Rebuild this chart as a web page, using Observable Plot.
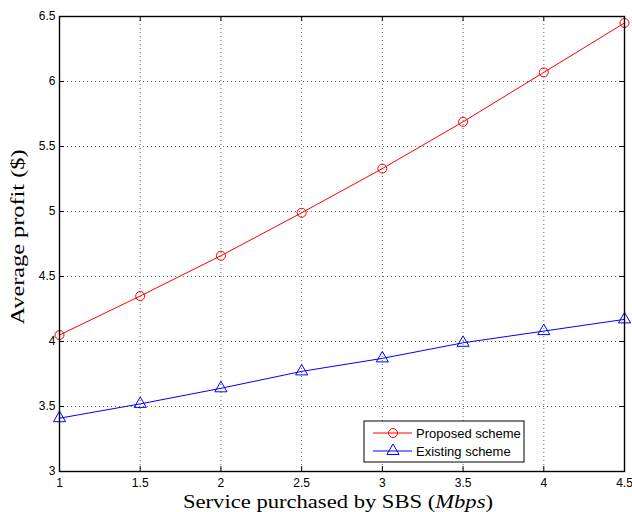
<!DOCTYPE html>
<html>
<head>
<meta charset="utf-8">
<script src="https://cdn.jsdelivr.net/npm/d3@7"></script>
<script src="https://cdn.jsdelivr.net/npm/@observablehq/plot@0.6"></script>
<style>
  html, body { margin: 0; padding: 0; background: #fff; }
  #chart { position: relative; width: 632px; height: 512px; }
  .serif-title { font-family: "Liberation Serif", "DejaVu Serif", "Times New Roman", serif !important; }
</style>
</head>
<body>
<div id="chart"></div>
<script>
const service = [1, 1.5, 2, 2.5, 3, 3.5, 4, 4.5];
const proposed = [4.05, 4.35, 4.66, 4.99, 5.33, 5.69, 6.07, 6.45];
const existing = [3.41, 3.52, 3.64, 3.77, 3.87, 3.99, 4.08, 4.17];
const xTicks = [1, 1.5, 2, 2.5, 3, 3.5, 4, 4.5];
const yTicks = [3, 3.5, 4, 4.5, 5, 5.5, 6, 6.5];
const seriesNames = ["Proposed scheme", "Existing scheme"];

const W = 632, H = 512;
const mL = 59, mR = 8, mT = 16, mB = 41;
const innerW = W - mL - mR, innerH = H - mT - mB;
const tickLen = 5;

const pData = service.map((x, i) => ({x, y: proposed[i]}));
const eData = service.map((x, i) => ({x, y: existing[i]}));

const chart = Plot.plot({
  width: W, height: H,
  marginLeft: mL, marginRight: mR, marginTop: mT, marginBottom: mB,
  style: {fontFamily: "'Liberation Sans', Arial, sans-serif", fontSize: "12px", background: "#fff", color: "#000"},
  x: {domain: [1, 4.5]},
  y: {domain: [3, 6.5]},
  marks: [
    Plot.gridX(xTicks, {stroke: "#000", strokeOpacity: 0.6, strokeDasharray: "1,3", strokeWidth: 1}),
    Plot.gridY(yTicks, {stroke: "#000", strokeOpacity: 0.6, strokeDasharray: "1,3", strokeWidth: 1}),
    Plot.axisX(xTicks, {tickSize: 0, tickPadding: 7, label: null, tickFormat: d => String(d), fontSize: 12}),
    Plot.axisY(yTicks, {tickSize: 0, tickPadding: 4, label: null, tickFormat: d => String(d), fontSize: 12}),
    // inward ticks (MATLAB style)
    Plot.tickX(xTicks, {x: d => d, stroke: "#000", insetTop: innerH - tickLen}),
    Plot.tickX(xTicks, {x: d => d, stroke: "#000", insetBottom: innerH - tickLen}),
    Plot.tickY(yTicks, {y: d => d, stroke: "#000", insetRight: innerW - tickLen}),
    Plot.tickY(yTicks, {y: d => d, stroke: "#000", insetLeft: innerW - tickLen}),
    Plot.line(pData, {x: "x", y: "y", stroke: "#ff0000", strokeWidth: 1}),
    Plot.dot(pData, {x: "x", y: "y", stroke: "#ff0000", fill: "none", symbol: "circle", r: 4.5, strokeWidth: 1}),
    Plot.line(eData, {x: "x", y: "y", stroke: "#0000ff", strokeWidth: 1}),
    Plot.dot(eData, {x: "x", y: "y", stroke: "#0000ff", fill: "none", symbol: "triangle", r: 4.5, strokeWidth: 1}),
    Plot.frame({stroke: "#000", strokeWidth: 1.4})
  ]
});

const container = document.getElementById("chart");
container.appendChild(chart);

// Axis titles
const svg = d3.select(chart);
const xl = svg.append("text")
  .attr("class", "serif-title")
  .attr("x", 338)
  .attr("y", 508)
  .attr("text-anchor", "middle")
  .attr("font-size", 19)
  .attr("textLength", 310)
  .attr("lengthAdjust", "spacingAndGlyphs")
  .attr("fill", "#000");
xl.append("tspan").text("Service purchased by SBS (");
xl.append("tspan").attr("font-style", "italic").text("Mbps");
xl.append("tspan").text(")");

svg.append("text")
  .attr("class", "serif-title")
  .attr("transform", `translate(24,237) rotate(-90)`)
  .attr("text-anchor", "middle")
  .attr("font-size", 19)
  .attr("textLength", 175)
  .attr("lengthAdjust", "spacingAndGlyphs")
  .attr("fill", "#000")
  .text("Average profit ($)");

// Legend (inside plot, lower right)
const lg = svg.append("g").attr("transform", "translate(364,421)").attr("text-anchor", "start");
lg.append("rect").attr("width", 160).attr("height", 41)
  .attr("fill", "#fff").attr("stroke", "#000").attr("stroke-width", 1);
const colors = ["#ff0000", "#0000ff"];
seriesNames.forEach((name, i) => {
  const y = 12 + i * 18;
  const row = lg.append("g").attr("transform", `translate(0,${y})`);
  row.append("line").attr("x1", 9).attr("x2", 48).attr("y1", 0).attr("y2", 0)
    .attr("stroke", colors[i]).attr("stroke-width", 1);
  if (i === 0) {
    row.append("circle").attr("cx", 29).attr("cy", 0).attr("r", 4.5)
      .attr("fill", "none").attr("stroke", colors[i]);
  } else {
    row.append("path").attr("transform", "translate(29,0)")
      .attr("d", d3.symbol(d3.symbolTriangle, Math.PI * 4.5 * 4.5)())
      .attr("fill", "none").attr("stroke", colors[i]);
  }
  row.append("text").attr("x", 52).attr("y", 0).attr("dy", "0.35em")
    .attr("text-anchor", "start")
    .attr("font-family", "'Liberation Sans', Arial, sans-serif")
    .attr("font-size", 13).attr("fill", "#000").text(name);
});
</script>
</body>
</html>
